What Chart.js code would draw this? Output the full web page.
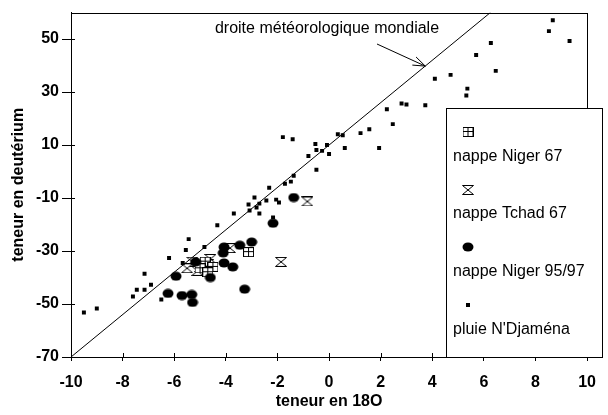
<!DOCTYPE html>
<html>
<head>
<meta charset="utf-8">
<script src="https://cdn.jsdelivr.net/npm/chart.js@4/dist/chart.umd.min.js"></script>
<style>
html, body { margin: 0; padding: 0; background: #fff; }
</style>
</head>
<body>
<canvas id="isoChart" width="608" height="415"></canvas>
<script>
// pluie N'Djaména
const rainO18 = [-9.5, -9.0, -7.6, -7.45, -7.15, -6.9, -7.15, -6.5, -6.2, -5.67, -5.55, -5.44, -4.83, -4.33, -3.69,
    -3.12, -2.81, -2.7, -3.08, -2.89, -2.43, -2.7, -2.05, -1.94, -2.17, -2.32, -1.71, -1.48, -1.37, -0.49,
    -0.8, 0, -0.27, -0.49, -0.08, -0.53, 0.61, 0.34, 0.53, -1.79, -1.41, 1.22, 1.56, 1.94, 2.47,
    2.24, 2.81, 3.0, 3.73, 4.1, 4.71, 5.7, 6.27, 6.46, 5.36, 5.32, 8.67, 8.52, 9.32];
const rainD = [-53.2, -51.7, -47.2, -44.6, -44.6, -42.7, -38.6, -48.3, -32.6, -34.5, -29.6, -25.5, -28.5, -20.3, -15.8,
    -12.4, -13.6, -15.8, -14.7, -9.8, -10.9, -12.1, -10.6, -11.7, -17.3, -6.1, -4.6, -3.8, -1.6, 0.7,
    5.9, 6.6, 7.8, 8.1, 10, 10.4, 8.9, 14.1, 13.7, 13, 12.2, 14.5, 16, 8.9, 17.9,
    23.5, 25.7, 25.3, 25, 35, 36.5, 44, 48.5, 38, 31.3, 28.7, 57.1, 53, 49.3];

// nappe Niger 95/97
const niger97O18 = [-1.37, -2.17, -3.0, -3.46, -4.07, -4.1, -4.07, -3.73, -4.6, -5.93, -6.24, -5.7, -5.32, -5.29, -3.27, -5.17];
const niger97D = [-9.8, -19.5, -26.6, -27.8, -28.5, -30.7, -34.5, -36, -40, -39.5, -46, -46.8, -46.4, -49.4, -44.4, -34.1];

// nappe Niger 67
const niger67O18 = [-3.12, -4.8, -5.0, -4.5, -4.7];
const niger67D = [-30.4, -34, -36.5, -36, -38];

// nappe Tchad 67
const tchad67O18 = [-0.84, -1.86, -3.84, -5.3, -5.0, -4.7, -5.1, -4.6, -5.5];
const tchad67D = [-11.3, -34.1, -28.9, -34, -36, -35, -37.5, -33, -36.5];

// droite météorologique mondiale (end points)
const gmwlO18 = [-10, 6.25];
const gmwlD = [-70, 60];

const xTicks = [-10, -8, -6, -4, -2, 0, 2, 4, 6, 8, 10];
const yTicks = [-70, -50, -30, -10, 10, 30, 50];

const legendLabels = ['nappe Niger 67', 'nappe Tchad 67', 'nappe Niger 95/97', "pluie N'Djaména"];

const pts = (xs, ys) => xs.map((x, i) => ({x: x, y: ys[i]}));

function makeMarker(w, h, draw) {
    const c = document.createElement('canvas');
    c.width = w;
    c.height = h;
    draw(c.getContext('2d'));
    return c;
}

const niger67Img = makeMarker(11, 10, g => {
    g.fillStyle = '#fff';
    g.strokeStyle = '#000';
    g.lineWidth = 1;
    g.fillRect(0.5, 0.5, 10, 9);
    g.strokeRect(0.5, 0.5, 10, 9);
    g.beginPath();
    g.moveTo(5.5, 0.5); g.lineTo(5.5, 9.5);
    g.moveTo(0.5, 4.5); g.lineTo(10.5, 4.5);
    g.stroke();
});

const tchad67Img = makeMarker(12, 10, g => {
    g.fillStyle = '#fff';
    g.strokeStyle = '#000';
    g.lineWidth = 1;
    g.beginPath();
    g.moveTo(0.5, 0.5); g.lineTo(11.5, 0.5);
    g.lineTo(0.5, 9.5); g.lineTo(11.5, 9.5);
    g.closePath();
    g.fill();
    g.stroke();
});

const dotImg = makeMarker(12, 10, g => {
    g.fillStyle = '#000';
    g.beginPath();
    g.ellipse(6, 5, 5.5, 4.5, 0, 0, Math.PI * 2);
    g.fill();
});

const extras = {
    id: 'extras',
    afterDraw(chart) {
        const ctx = chart.ctx;
        const a = chart.chartArea;
        const xs = chart.scales.x, ys = chart.scales.y;
        ctx.save();
        ctx.strokeStyle = '#000';
        ctx.lineWidth = 1;
        // frame
        ctx.strokeRect(Math.round(a.left) + 0.5, Math.round(a.top) + 0.5,
            Math.round(a.right - a.left), Math.round(a.bottom - a.top));
        // inner ticks
        ctx.beginPath();
        xTicks.forEach(v => {
            const px = Math.round(xs.getPixelForValue(v)) + 0.5;
            ctx.moveTo(px, a.bottom); ctx.lineTo(px, a.bottom - 4);
        });
        yTicks.forEach(v => {
            const py = Math.round(ys.getPixelForValue(v)) + 0.5;
            ctx.moveTo(a.left, py); ctx.lineTo(a.left + 4, py);
        });
        ctx.stroke();

        // legend box
        const bx = 446, by = 108, bw = 156, bh = a.bottom - 108;
        ctx.fillStyle = '#fff';
        ctx.fillRect(bx + 0.5, by + 0.5, bw, bh);
        ctx.strokeRect(bx + 0.5, by + 0.5, bw, bh);
        const markers = [niger67Img, tchad67Img, dotImg, null];
        const markY = [132, 190, 247, 305];
        const textY = [157, 214, 272, 330];
        ctx.font = '16px "Liberation Sans", Arial, sans-serif';
        ctx.fillStyle = '#000';
        ctx.textAlign = 'left';
        ctx.textBaseline = 'middle';
        legendLabels.forEach((lab, i) => {
            const m = markers[i];
            if (m) {
                ctx.drawImage(m, 468 - m.width / 2, markY[i] - m.height / 2);
            } else {
                ctx.fillRect(466, markY[i] - 2, 4, 4);
            }
            ctx.fillText(lab, 453, textY[i]);
        });

        // annotation with arrow
        ctx.textAlign = 'center';
        ctx.fillText('droite météorologique mondiale', 327, 29);
        const tx = xs.getPixelForValue(3.73), ty = ys.getPixelForValue(39.8);
        const sx = 377, sy = 44;
        ctx.beginPath();
        ctx.moveTo(sx, sy);
        ctx.lineTo(tx, ty);
        const ang = Math.atan2(ty - sy, tx - sx);
        [0.35, -0.35].forEach(d => {
            ctx.moveTo(tx, ty);
            ctx.lineTo(tx - 13 * Math.cos(ang + d), ty - 13 * Math.sin(ang + d));
        });
        ctx.stroke();
        ctx.restore();
    }
};

const ctx = document.getElementById('isoChart').getContext('2d');

new Chart(ctx, {
    type: 'scatter',
    data: {
        datasets: [
            {
                type: 'line',
                label: 'droite météorologique mondiale',
                data: pts(gmwlO18, gmwlD),
                borderColor: '#000',
                borderWidth: 1,
                pointRadius: 0,
                fill: false
            },
            {
                label: legendLabels[3],
                data: pts(rainO18, rainD),
                pointStyle: 'rect',
                pointRadius: 2.8,
                backgroundColor: '#000',
                borderColor: '#000',
                borderWidth: 0
            },
            {
                label: legendLabels[2],
                data: pts(niger97O18, niger97D),
                pointStyle: dotImg,
                pointRadius: 5
            },
            {
                label: legendLabels[0],
                data: pts(niger67O18, niger67D),
                pointStyle: niger67Img,
                pointRadius: 5
            },
            {
                label: legendLabels[1],
                data: pts(tchad67O18, tchad67D),
                pointStyle: tchad67Img,
                pointRadius: 5
            }
        ]
    },
    options: {
        responsive: false,
        animation: false,
        events: [],
        layout: {padding: {top: 11, right: 10, left: 9, bottom: 0}},
        plugins: {
            legend: {display: false},
            tooltip: {enabled: false}
        },
        scales: {
            x: {
                type: 'linear',
                min: -10,
                max: 10,
                afterBuildTicks: s => { s.ticks = xTicks.map(v => ({value: v})); },
                afterFit: s => { s.height = 58; },
                grid: {drawOnChartArea: false, color: '#000', tickLength: 4},
                border: {color: '#000', width: 1},
                ticks: {
                    color: '#000',
                    padding: 12,
                    maxRotation: 0,
                    autoSkip: false,
                    font: {family: '"Liberation Sans", Arial, sans-serif', size: 16, weight: 'bold'}
                },
                title: {
                    display: true,
                    text: 'teneur en 18O',
                    color: '#000',
                    padding: {top: 0, bottom: 4},
                    font: {family: '"Liberation Sans", Arial, sans-serif', size: 16, weight: 'bold'}
                }
            },
            y: {
                type: 'linear',
                min: -70,
                max: 60,
                afterBuildTicks: s => { s.ticks = yTicks.map(v => ({value: v})); },
                afterFit: s => { s.width = 62; },
                grid: {drawOnChartArea: false, color: '#000', tickLength: 9},
                border: {color: '#000', width: 1},
                ticks: {
                    color: '#000',
                    padding: 3,
                    autoSkip: false,
                    font: {family: '"Liberation Sans", Arial, sans-serif', size: 16, weight: 'bold'}
                },
                title: {
                    display: true,
                    text: 'teneur en deutérium',
                    color: '#000',
                    padding: 0,
                    font: {family: '"Liberation Sans", Arial, sans-serif', size: 16, weight: 'bold'}
                }
            }
        }
    },
    plugins: [extras]
});
</script>
</body>
</html>
